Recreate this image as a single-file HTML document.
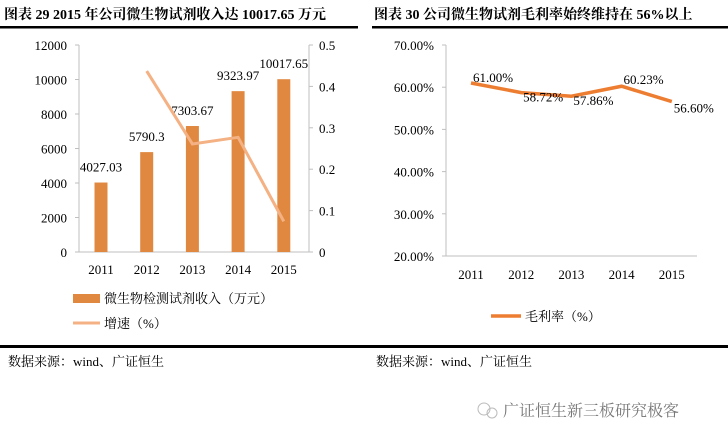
<!DOCTYPE html>
<html><head><meta charset="utf-8">
<style>
body{margin:0;background:#fff;width:728px;height:443px;overflow:hidden}
svg text{font-family:"Liberation Serif","Noto Serif CJK SC",serif}
</style></head><body>
<svg id="s" width="728" height="443" viewBox="0 0 728 443" xmlns="http://www.w3.org/2000/svg">
<g>
<text x="4" y="19" font-size="14" font-weight="bold">图表 29 2015 年公司微生物试剂收入达 10017.65 万元</text>
<text x="374" y="19" font-size="14" font-weight="bold">图表 30 公司微生物试剂毛利率始终维持在 56%以上</text>
<rect x="0" y="26" width="358" height="2.5" fill="#000"/>
<rect x="372" y="26" width="356" height="2.5" fill="#000"/>
</g>
<g id="left"></g>
<g id="right"></g>
<rect x="0" y="345" width="728" height="3" fill="#000"/>
<text x="8" y="366" font-size="13">数据来源：wind、广证恒生</text>
<text x="376" y="366" font-size="13">数据来源：wind、广证恒生</text>
<g>
<circle cx="484" cy="409" r="6" fill="none" stroke="#bbb"/><circle cx="492" cy="413" r="5" fill="none" stroke="#bbb"/>
<text x="503" y="416" font-size="16" fill="#777" font-family="Liberation Sans,Noto Sans CJK SC,sans-serif">广证恒生新三板研究极客</text>
</g>
</svg>
<script>
const years=['2011','2012','2013','2014','2015'];
const revenue=[4027.03,5790.3,7303.67,9323.97,10017.65];
const revenueLabels=['4027.03','5790.3','7303.67','9323.97','10017.65'];
const growth=[null,0.437,0.261,0.277,0.074];
const leftTicks=[0,2000,4000,6000,8000,10000,12000];
const rightTicks=[0,0.1,0.2,0.3,0.4,0.5];
const margin=[0.61,0.5872,0.5786,0.6023,0.566];
const marginLabels=['61.00%','58.72%','57.86%','60.23%','56.60%'];
const marginTicks=[0.2,0.3,0.4,0.5,0.6,0.7];
const NS='http://www.w3.org/2000/svg';
function mk(p,t,a,txt){const e=document.createElementNS(NS,t);for(const k in a)e.setAttribute(k,a[k]);if(txt!=null)e.textContent=txt;p.appendChild(e);return e;}
// left chart
const L=document.getElementById('left');
const lx=i=>101+i*45.7, ly=v=>252-v/12000*207, ry=v=>252-v/0.5*207;
mk(L,'line',{x1:79,y1:45,x2:79,y2:252,stroke:'#bfbfbf'});
mk(L,'line',{x1:79,y1:252,x2:309,y2:252,stroke:'#bfbfbf'});
mk(L,'line',{x1:309,y1:45,x2:309,y2:252,stroke:'#bfbfbf'});
leftTicks.forEach(t=>{const tk=mk(L,'text',{x:67,y:ly(t)+5,'font-size':13,'text-anchor':'end'},t);


mk(L,'line',{x1:75,y1:ly(t),x2:79,y2:ly(t),stroke:'#bfbfbf'});});
rightTicks.forEach(t=>{const tk=mk(L,'text',{x:319,y:ry(t)+5,'font-size':13},t);


mk(L,'line',{x1:309,y1:ry(t),x2:313,y2:ry(t),stroke:'#bfbfbf'});});
years.forEach((y,i)=>{
const b=mk(L,'rect',{x:lx(i)-6.5,y:ly(revenue[i]),width:13,height:252-ly(revenue[i]),fill:'#e0883f'});


const lb=mk(L,'text',{x:lx(i),y:ly(revenue[i])-11,'font-size':13,'text-anchor':'middle'},revenueLabels[i]);


const xt=mk(L,'text',{x:lx(i),y:274,'font-size':13,'text-anchor':'middle'},y);

});
let pts=[];growth.forEach((g,i)=>{if(g!=null)pts.push(lx(i)+','+ry(g));});
const gl=mk(L,'polyline',{points:pts.join(' '),fill:'none',stroke:'#f4b183','stroke-width':3});


const lg1=mk(L,'rect',{x:73,y:294,width:27,height:9,fill:'#e0883f'});


const lt1=mk(L,'text',{x:104,y:303,'font-size':13},'微生物检测试剂收入（万元）');


const lg2=mk(L,'line',{x1:73,y1:323,x2:100,y2:323,stroke:'#f4b183','stroke-width':3});


const lt2=mk(L,'text',{x:104,y:328,'font-size':13},'增速（%）');


// right chart
const R=document.getElementById('right');
const mx=i=>471+i*50.2, my=v=>256-(v-0.2)/0.5*211;
mk(R,'line',{x1:446,y1:45,x2:446,y2:256,stroke:'#bfbfbf'});
mk(R,'line',{x1:446,y1:256,x2:697,y2:256,stroke:'#bfbfbf'});
marginTicks.forEach(t=>{const tk=mk(R,'text',{x:434,y:my(t)+5,'font-size':13,'text-anchor':'end'},(t*100).toFixed(2)+'%');


mk(R,'line',{x1:442,y1:my(t),x2:446,y2:my(t),stroke:'#bfbfbf'});});
const ml=mk(R,'polyline',{points:margin.map((v,i)=>mx(i)+','+my(v)).join(' '),fill:'none',stroke:'#ed7d31','stroke-width':3.5});


const offs=[[0,-2],[0,8],[0,8],[0,-3],[0,10]];
years.forEach((y,i)=>{
const lb=mk(R,'text',{x:mx(i)+22,y:my(margin[i])+offs[i][1]+1,'font-size':13,'text-anchor':'middle'},marginLabels[i]);


const xt=mk(R,'text',{x:mx(i),y:279,'font-size':13,'text-anchor':'middle'},y);

});
const rg=mk(R,'line',{x1:491,y1:316,x2:521,y2:316,stroke:'#ed7d31','stroke-width':3.5});


const rt=mk(R,'text',{x:525,y:321,'font-size':13},'毛利率（%）');


</script>
</body></html>
